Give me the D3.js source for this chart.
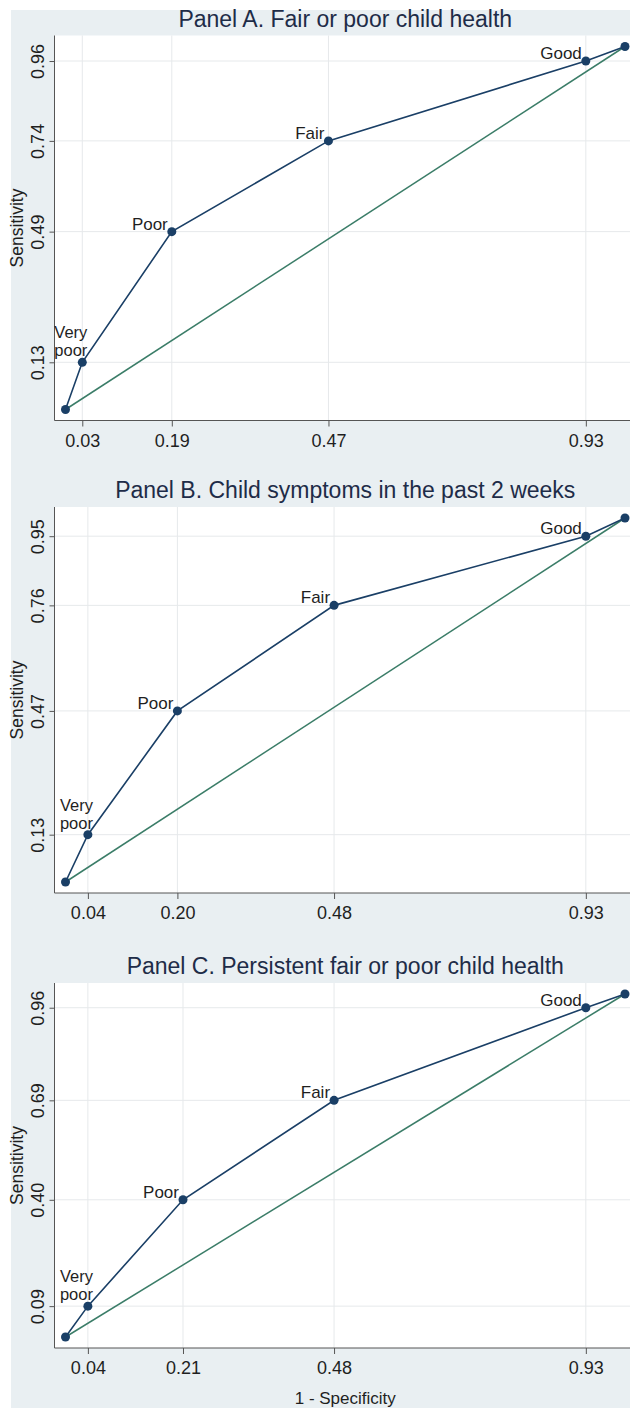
<!DOCTYPE html>
<html>
<head>
<meta charset="utf-8">
<script src="https://cdn.jsdelivr.net/npm/d3@7"></script>
<style>
  body { margin: 0; background: #ffffff; }
  svg { display: block; font-family: "Liberation Sans", Arial, sans-serif; }
</style>
</head>
<body>
<svg width="630" height="1408"></svg>
<script>
// categories used as point labels (first and last are the corners of the curve)
const pointLabels = ["", "Very poor", "Poor", "Fair", "Good", ""];

// panel titles
const titles = [
  "Panel A. Fair or poor child health",
  "Panel B. Child symptoms in the past 2 weeks",
  "Panel C. Persistent fair or poor child health"
];

// 1 - specificity per cutoff
const fprA = [0, 0.03, 0.19, 0.47, 0.93, 1];
const fprB = [0, 0.04, 0.20, 0.48, 0.93, 1];
const fprC = [0, 0.04, 0.21, 0.48, 0.93, 1];

// sensitivity per cutoff
const sensA = [0, 0.13, 0.49, 0.74, 0.96, 1];
const sensB = [0, 0.13, 0.47, 0.76, 0.95, 1];
const sensC = [0, 0.09, 0.40, 0.69, 0.96, 1];

// tick labels on each axis
const xTicksA = ["0.03", "0.19", "0.47", "0.93"];
const xTicksB = ["0.04", "0.20", "0.48", "0.93"];
const xTicksC = ["0.04", "0.21", "0.48", "0.93"];
const yTicksA = ["0.13", "0.49", "0.74", "0.96"];
const yTicksB = ["0.13", "0.47", "0.76", "0.95"];
const yTicksC = ["0.09", "0.40", "0.69", "0.96"];

const panels = [
  { title: titles[0], fpr: fprA, sens: sensA, xt: xTicksA, yt: yTicksA },
  { title: titles[1], fpr: fprB, sens: sensB, xt: xTicksB, yt: yTicksB },
  { title: titles[2], fpr: fprC, sens: sensC, xt: xTicksC, yt: yTicksC, xTitle: "1 - Specificity" }
];

// layout of each plot region (top / bottom of the white area)
const boxes = [
  { top: 35.5, bottom: 420.5 },
  { top: 507, bottom: 893 },
  { top: 983, bottom: 1348 }
];

const left = 54.5, right = 636, pad = 11;
const navy = "#1a3f66", green = "#3b7d68", ink = "#1f1f1f";

const svg = d3.select("svg");

// graph region background
svg.append("rect")
   .attr("x", 11).attr("y", 10)
   .attr("width", 630).attr("height", 1408)
   .attr("fill", "#e9eff2");

panels.forEach(function (p, i) {
  const b = boxes[i];
  const g = svg.append("g");

  const x = d3.scaleLinear().domain([0, 1]).range([left + pad, right - pad]);
  const y = d3.scaleLinear().domain([0, 1]).range([b.bottom - pad, b.top + pad]);

  const xv = p.xt.map(Number), yv = p.yt.map(Number);

  // white plot region
  g.append("rect")
   .attr("x", left).attr("y", b.top)
   .attr("width", right - left).attr("height", b.bottom - b.top)
   .attr("fill", "#ffffff");

  // grid lines
  g.selectAll(".vgrid").data(xv).enter().append("line")
   .attr("x1", d => x(d)).attr("x2", d => x(d))
   .attr("y1", b.top).attr("y2", b.bottom)
   .attr("stroke", "#e6e9eb").attr("stroke-width", 1);
  g.selectAll(".hgrid").data(yv).enter().append("line")
   .attr("y1", d => y(d)).attr("y2", d => y(d))
   .attr("x1", left).attr("x2", right)
   .attr("stroke", "#e6e9eb").attr("stroke-width", 1);

  // axes
  const xAxis = d3.axisBottom(x).tickValues(xv).tickFormat((d, k) => p.xt[k]).tickSize(6).tickSizeOuter(0);
  const gx = g.append("g").attr("transform", "translate(0," + b.bottom + ")").call(xAxis);
  gx.select(".domain").attr("d", "M" + left + ",0H" + right).attr("stroke", "#555");
  gx.selectAll(".tick line").attr("stroke", "#555");
  gx.selectAll(".tick text").attr("y", 26).attr("dy", null)
    .attr("font-size", 18).attr("fill", ink).attr("font-family", null);

  const yAxis = d3.axisLeft(y).tickValues(yv).tickFormat((d, k) => p.yt[k]).tickSize(5).tickSizeOuter(0);
  const gy = g.append("g").attr("transform", "translate(" + left + ",0)").call(yAxis);
  gy.select(".domain").attr("d", "M0," + b.top + "V" + b.bottom).attr("stroke", "#555");
  gy.selectAll(".tick line").attr("stroke", "#555");
  gy.selectAll(".tick text")
    .attr("x", null).attr("dy", null)
    .attr("transform", "translate(-11,0) rotate(-90)")
    .attr("text-anchor", "middle")
    .attr("font-size", 18).attr("fill", ink).attr("font-family", null);

  // axis title
  g.append("text")
   .attr("transform", "translate(23," + (b.top + b.bottom) / 2 + ") rotate(-90)")
   .attr("text-anchor", "middle")
   .attr("font-size", 17.5).attr("fill", ink)
   .text("Sensitivity");

  // panel title
  g.append("text")
   .attr("x", (left + right) / 2).attr("y", b.top - 9)
   .attr("text-anchor", "middle")
   .attr("font-size", 23).attr("fill", "#1e2c48")
   .text(p.title);

  if (p.xTitle) {
    g.append("text")
     .attr("x", (left + right) / 2).attr("y", b.bottom + 56)
     .attr("text-anchor", "middle")
     .attr("font-size", 17).attr("fill", ink)
     .text(p.xTitle);
  }

  const pts = p.fpr.map((v, k) => ({ fx: v, s: p.sens[k], label: pointLabels[k] }));

  // reference diagonal
  const line = d3.line().x(d => x(d.fx)).y(d => y(d.s));
  g.append("path")
   .datum([pts[0], pts[pts.length - 1]])
   .attr("d", line)
   .attr("fill", "none").attr("stroke", green).attr("stroke-width", 1.5);

  // roc curve
  g.append("path")
   .datum(pts)
   .attr("d", line)
   .attr("fill", "none").attr("stroke", navy).attr("stroke-width", 1.6);

  g.selectAll(".pt").data(pts).enter().append("circle")
   .attr("cx", d => x(d.fx)).attr("cy", d => y(d.s))
   .attr("r", 4.5).attr("fill", navy);

  // labels sit up and to the left of each point
  pts.filter(d => d.label).forEach(function (d) {
    const words = d.label.split(" ");
    if (words.length > 1) {
      const t = g.append("text")
                 .attr("font-size", 16.5).attr("fill", ink);
      words.forEach(function (w, k) {
        t.append("tspan")
         .attr("x", x(d.fx) - 28)
         .attr("y", y(d.s) - 6 - (words.length - 1 - k) * 18)
         .text(w);
      });
    } else {
      g.append("text")
       .attr("x", x(d.fx) - 4).attr("y", y(d.s) - 2)
       .attr("text-anchor", "end")
       .attr("font-size", 17).attr("fill", ink)
       .text(d.label);
    }
  });
});
</script>
</body>
</html>
